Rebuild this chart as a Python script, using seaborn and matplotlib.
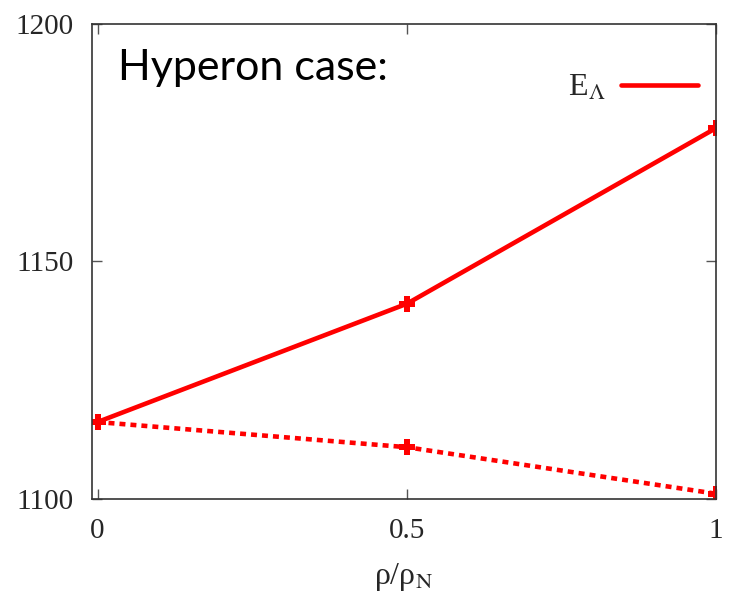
import matplotlib
matplotlib.use("Agg")
import matplotlib.pyplot as plt
from matplotlib.lines import Line2D
import seaborn as sns
import pandas as pd

# data
density = [0.0, 0.5, 1.0]
e_lambda = [1116.2, 1141.1, 1178.1]
e_lambda_lower = [1116.2, 1110.9, 1101.1]
x_ticks = [0, 0.5, 1]
x_tick_labels = ["0", "0.5", "1"]
y_ticks = [1100, 1150, 1200]
y_tick_labels = ["1100", "1150", "1200"]

sns.set_theme(style="white")
plt.rcParams["font.family"] = ["Liberation Serif", "DejaVu Serif"]
plt.rcParams["mathtext.fontset"] = "stix"

fig = plt.figure(figsize=(7.3, 6.06), dpi=100)
ax = fig.add_axes([0.126, 0.1766, 0.855, 0.7838])

red = "#ff0000"
df1 = pd.DataFrame({"x": density, "y": e_lambda})
df2 = pd.DataFrame({"x": density, "y": e_lambda_lower})

sns.lineplot(data=df1, x="x", y="y", ax=ax, color=red, lw=3.3,
             marker="P", markersize=12, markeredgewidth=0, legend=False)
sns.lineplot(data=df2, x="x", y="y", ax=ax, color=red, lw=3.3,
             linestyle=(0, (1.3, 1.1)), marker="P", markersize=12,
             markeredgewidth=0, legend=False)

ax.set_xlim(-0.009, 1.0)
ax.set_ylim(1100, 1200)
ax.set_xticks(x_ticks)
ax.set_xticklabels(x_tick_labels)
ax.set_yticks(y_ticks)
ax.set_yticklabels(y_tick_labels)

for s in ax.spines.values():
    s.set_visible(True)
    s.set_color("#333333")
    s.set_linewidth(1.2)

ax.tick_params(axis="both", which="major", direction="in", length=7,
               width=1, color="#555555", labelsize=21,
               top=True, right=True, bottom=True, left=True)
ax.tick_params(axis="y", pad=13)
ax.tick_params(axis="x", pad=14)

ax.set_xlabel(r"ρ/ρ$_{\mathrm{N}}$", fontsize=23, labelpad=12)
ax.set_ylabel("")

ax.text(0.042, 0.882, "Hyperon case:", transform=ax.transAxes,
        fontsize=31, family=["Lato", "DejaVu Sans"], color="black",
        va="baseline", ha="left")

handle = Line2D([], [], color=red, lw=3.3)
ax.legend([handle], [r"E$_{\Lambda}$"], loc="center right", frameon=False,
          markerfirst=False, fontsize=23, handlelength=2.4,
          handletextpad=0.5, borderpad=0, borderaxespad=0,
          bbox_to_anchor=(0.971, 0.865))

fig.savefig("out.png", dpi=100)
